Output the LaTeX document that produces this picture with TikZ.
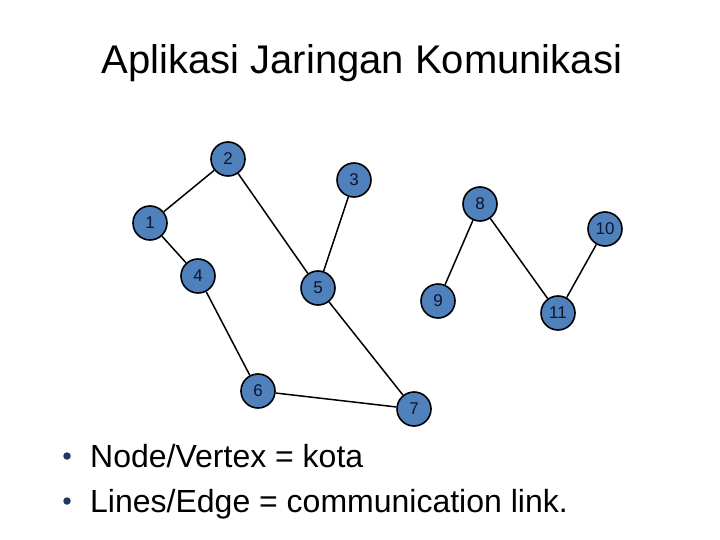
\documentclass[tikz,border=0pt]{standalone}
\usepackage{fontspec}
\setmainfont{Liberation Sans}
\definecolor{nodeblue}{RGB}{79,129,189}
\definecolor{labelink}{RGB}{16,20,44}
\definecolor{dotblue}{RGB}{31,56,100}
\tikzset{
  city/.style={circle, draw=black, line width=1.6pt, fill=nodeblue,
    minimum size=34pt, inner sep=0pt, text=labelink,
    font=\fontsize{17}{17}\selectfont},
  link/.style={line width=1.5pt, black},
  bullettext/.style={font=\fontsize{32}{32}\selectfont, anchor=base west, inner sep=0pt},
  bulletdot/.style={circle, fill=dotblue, minimum size=7.5pt, inner sep=0pt}
}
\begin{document}
\begin{tikzpicture}[x=1pt, y=-1pt]
    \useasboundingbox (0,0) rectangle (720,540);

    % 标题
    \node[font=\fontsize{40}{40}\selectfont, anchor=base, inner sep=0pt] (title) at (362,74) {Aplikasi Jaringan Komunikasi};

    % 城市节点
    \foreach \idx/\px/\py in {1/150/223, 2/228/159, 3/354/180, 4/198/276, 5/318/288,
                              6/258/391, 7/414/409, 8/480/204, 9/438/301, 10/605/229, 11/558/313} {
        \node[city] (N\idx) at (\px,\py) {\idx};
    }

    % 通信线路
    \foreach \a/\b in {1/2, 1/4, 2/5, 3/5, 4/6, 5/7, 6/7, 8/9, 8/11, 10/11} {
        \draw[link] (N\a) -- (N\b);
    }

    % 说明
    \node[bullettext] (line1) at (90,467) {Node/Vertex = kota};
    \node[bullettext] (line2) at (90,512) {Lines/Edge = communication link.};
    \node[bulletdot] (dot1) at (67,456) {};
    \node[bulletdot] (dot2) at (67,501) {};
\end{tikzpicture}
\end{document}
